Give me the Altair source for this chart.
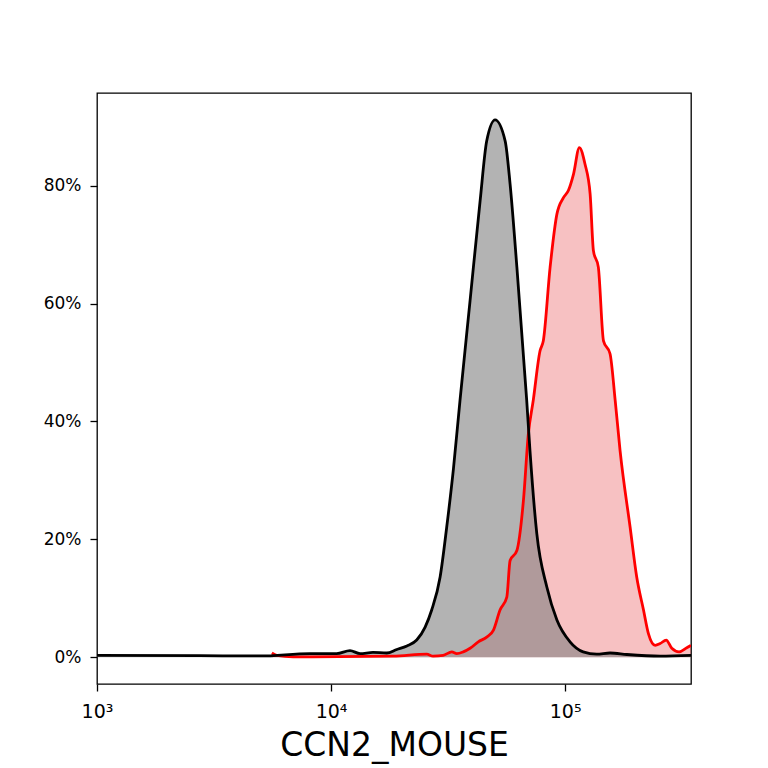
import numpy as np
import pandas as pd
import altair as alt

# log10(intensity) and % of max
ctrl_log = [3.000, 3.440, 3.697, 3.910, 4.024, 4.081, 4.124, 4.179, 4.238, 4.281,
            4.324, 4.366, 4.402, 4.430, 4.466, 4.494, 4.523, 4.551, 4.594, 4.637,
            4.665, 4.701, 4.744, 4.765, 4.794, 4.836, 4.850, 4.879, 4.922, 4.965,
            5.021, 5.077, 5.135, 5.192, 5.264, 5.406, 5.538]
ctrl_pct = [0.3, 0.25, 0.2, 0.6, 0.6, 1.1, 0.6, 0.8, 0.7, 1.3,
            1.9, 2.9, 5.1, 8.0, 13.6, 22.0, 32.0, 43.6, 60.5, 77.5,
            87.6, 91.2, 87.6, 80.3, 66.2, 43.6, 35.0, 21.0, 11.9, 6.3,
            2.6, 0.9, 0.5, 0.7, 0.45, 0.17, 0.3]

ccn2_log = [3.747, 3.768, 3.838, 4.265, 4.409, 4.436, 4.479, 4.516, 4.537, 4.565,
            4.594, 4.629, 4.665, 4.694, 4.722, 4.751, 4.765, 4.794, 4.822, 4.843,
            4.864, 4.893, 4.907, 4.936, 4.965, 4.993, 5.014, 5.036, 5.061, 5.085,
            5.107, 5.121, 5.142, 5.164, 5.192, 5.214, 5.235, 5.278, 5.306, 5.335,
            5.356, 5.385, 5.406, 5.432, 5.456, 5.487, 5.520, 5.538]
ccn2_pct = [0.7, 0.3, 0.05, 0.17, 0.5, 0.17, 0.3, 0.9, 0.6, 0.9,
            1.5, 2.6, 3.4, 4.6, 8.0, 10.2, 16.4, 18.1, 26.6, 37.9,
            43.6, 52.0, 53.7, 66.2, 75.2, 78.0, 79.2, 82.0, 86.5, 83.7,
            78.6, 69.0, 66.2, 53.7, 51.5, 43.6, 35.0, 22.0, 13.6, 8.0,
            4.0, 2.0, 2.3, 2.9, 1.5, 0.9, 1.6, 2.0]

x_ticks = [1000, 10000, 100000]
y_ticks = [0, 20, 40, 60, 80]

ctrl = pd.DataFrame({"intensity": np.power(10.0, ctrl_log), "pct": ctrl_pct})
ccn2 = pd.DataFrame({"intensity": np.power(10.0, ccn2_log), "pct": ccn2_pct})

x = (
    alt.X("intensity:Q")
    .scale(type="log", domain=[1000, 345100], nice=False)
    .axis(values=x_ticks,
          labelExpr="datum.value == 1000 ? '10³' : datum.value == 10000 ? '10⁴' : '10⁵'",
          labelFlush=False, labelFontSize=19, labelPadding=11, titlePadding=8)
    .title("CCN2_MOUSE")
)
y = (
    alt.Y("pct:Q")
    .scale(domain=[-4.56, 95.76], nice=False, zero=False)
    .axis(values=y_ticks, labelExpr="datum.value + '%'", labelPadding=9)
    .title(None)
)

red_fill = alt.Chart(ccn2).mark_area(color="#e31a1c", opacity=0.27, interpolate="monotone", clip=True).encode(
    x=x, y=y, y2=alt.datum(0))
gray_fill = alt.Chart(ctrl).mark_area(color="gray", opacity=0.6, interpolate="monotone", clip=True).encode(
    x=x, y=y, y2=alt.datum(0))
red_line = alt.Chart(ccn2).mark_line(color="red", strokeWidth=2.8, interpolate="monotone", clip=True).encode(
    x=x, y=y)
black_line = alt.Chart(ctrl).mark_line(color="black", strokeWidth=2.8, interpolate="monotone", clip=True).encode(
    x=x, y=y)

chart = (
    alt.layer(red_fill, gray_fill, red_line, black_line)
    .properties(width=594, height=591,
                autosize=alt.AutoSizeParams(type="none"),
                padding={"left": 89, "top": 85, "right": 69, "bottom": 86})
    .configure_view(stroke="black", strokeWidth=1.3)
    .configure_axis(domain=False, grid=False, tickColor="black", tickWidth=1.3, tickSize=7,
                    labelFont="DejaVu Sans", labelFontSize=17, labelColor="black",
                    titleFont="DejaVu Sans", titleFontSize=33, titleFontWeight="normal",
                    titleColor="black")
)

chart.save("out.html", embed_options={"renderer": "svg", "actions": False})
